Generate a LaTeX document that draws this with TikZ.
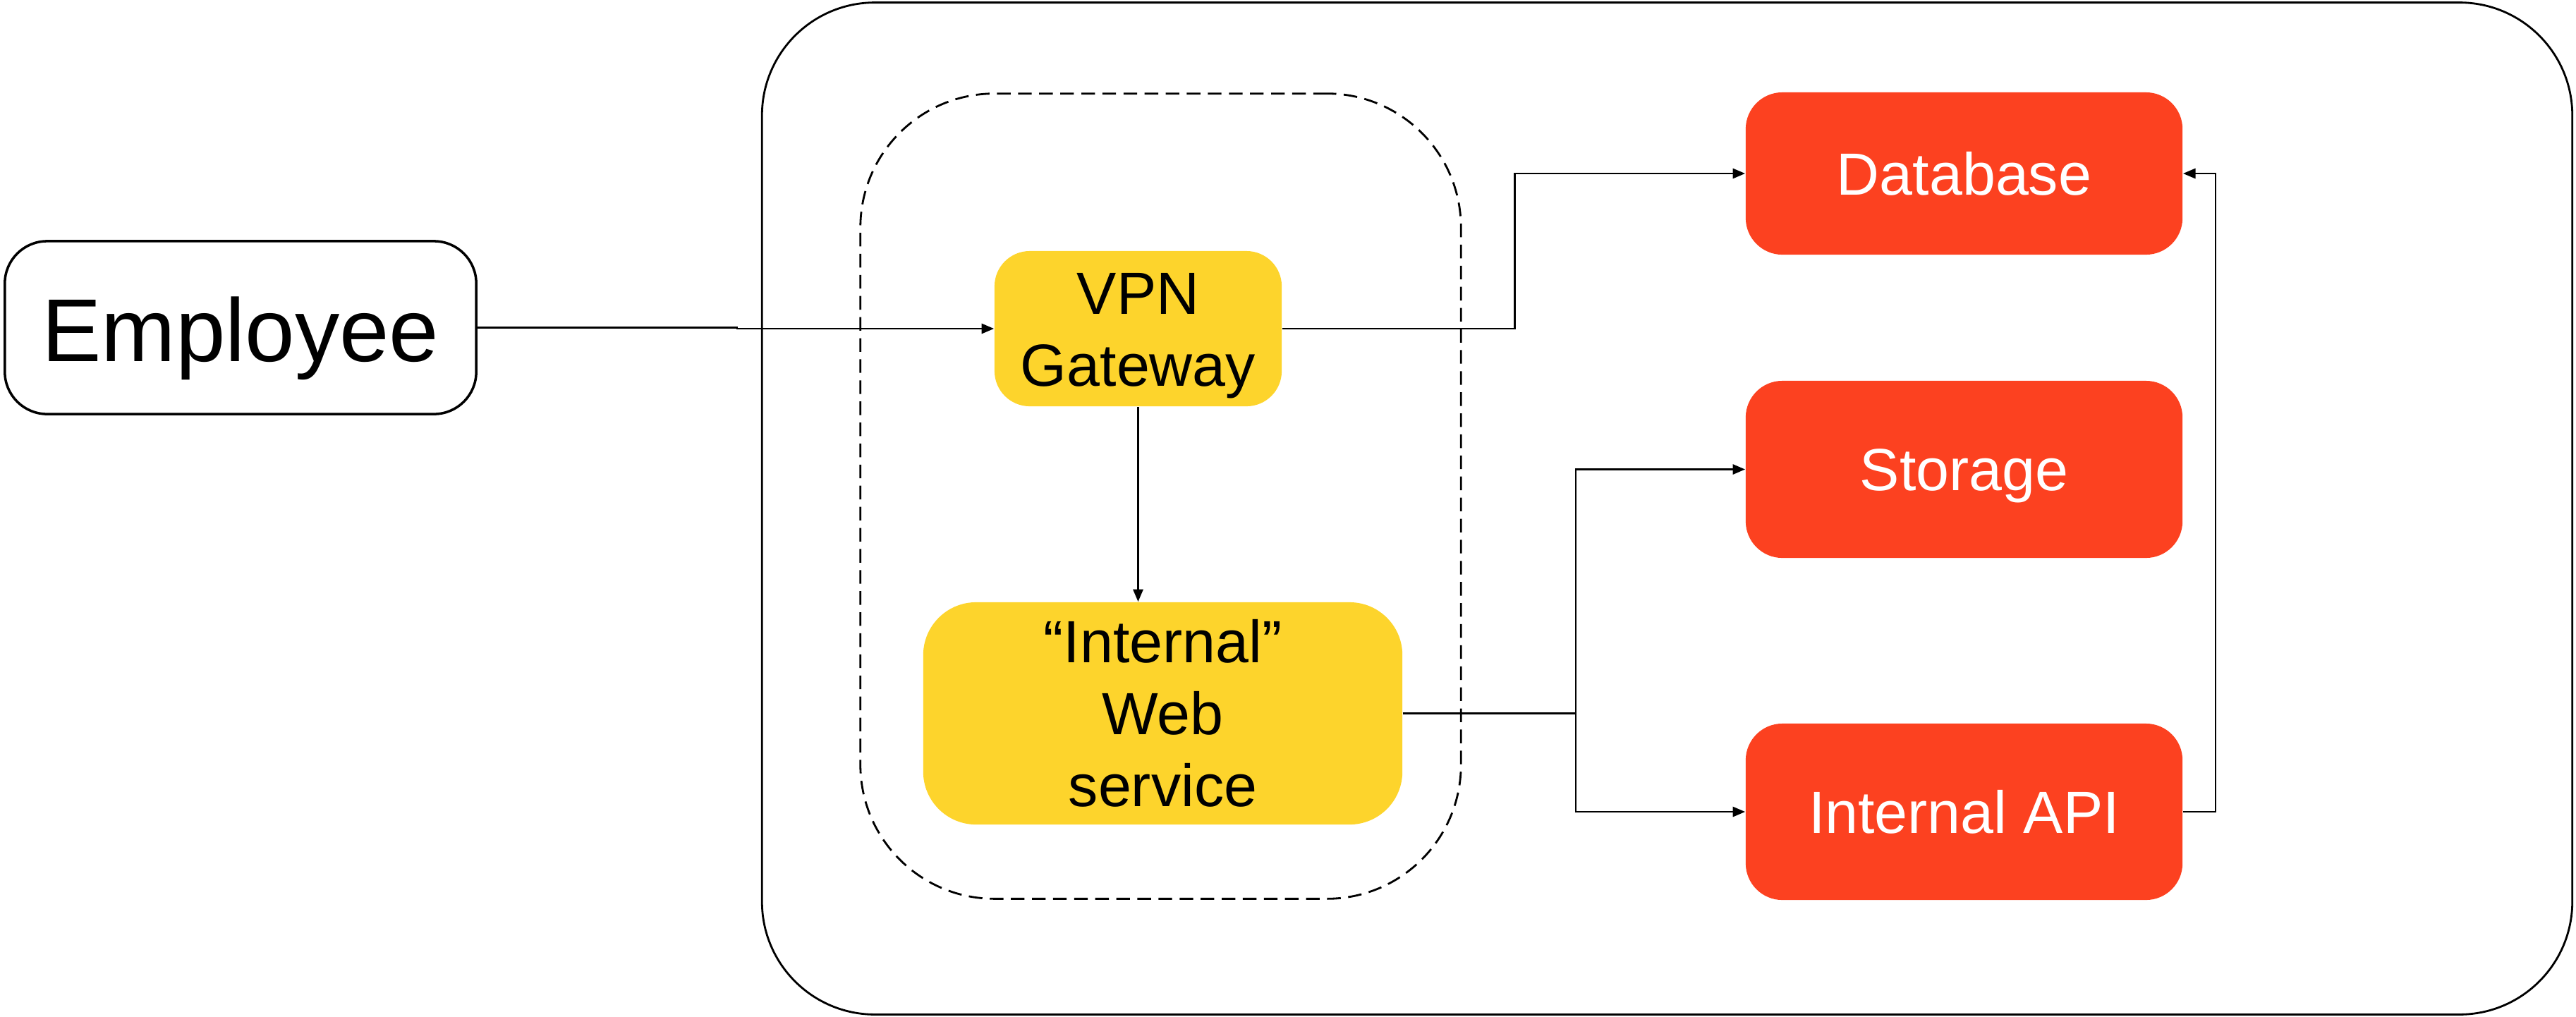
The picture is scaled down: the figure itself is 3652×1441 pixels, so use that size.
\documentclass[tikz,border=0pt]{standalone}
\usepackage{fontspec}
\setmainfont{Liberation Sans}
\usetikzlibrary{arrows.meta}
\definecolor{ybox}{RGB}{253,212,44}
\definecolor{rbox}{RGB}{252,65,32}
\tikzset{
  box/.style={rectangle, inner sep=0pt, align=center},
  ybx/.style={box, fill=ybox, font=\fontsize{24}{29}\selectfont, text depth=0pt},
  rbx/.style={box, fill=rbox, text=white, font=\fontsize{24}{29}\selectfont,
              minimum width=6.19cm, rounded corners=0.52cm, text height=17.2pt, text depth=0pt},
  arr/.style={line width=0.8pt, -{Triangle[length=5pt,width=4pt]}},
}
\begin{document}
\begin{tikzpicture}[x=0.01cm, y=-0.01cm]
\useasboundingbox (0,0) rectangle (3652,1441);
% containers
\node[box, draw, line width=0.8pt, minimum width=25.65cm, minimum height=14.34cm,
      rounded corners=1.6cm] (outer) at (2363.5,721) {};
\node[box, draw, dashed, dash pattern=on 5.5pt off 3pt, line width=0.8pt,
      minimum width=8.51cm, minimum height=11.41cm, rounded corners=1.9cm] (zone) at (1645.5,703.5) {};
% nodes
\node[box, draw, line width=1pt, minimum width=6.68cm, minimum height=2.45cm,
      rounded corners=0.6cm, font=\fontsize{36}{42}\selectfont,
      text height=27.2pt, text depth=0pt] (emp) at (341,464.5) {Employee};
\node[ybx, minimum width=4.07cm, minimum height=2.2cm, rounded corners=0.5cm,
      text height=46.2pt] (vpn) at (1613.5,466) {VPN\\Gateway};
\node[ybx, minimum width=6.79cm, minimum height=3.15cm, rounded corners=0.75cm,
      text height=75.2pt] (web) at (1648.5,1011.5) {“Internal”\\Web\\service};
\node[rbx, minimum height=2.3cm] (db) at (2784.5,246) {Database};
\node[rbx, minimum height=2.51cm] (sto) at (2784.5,665.5) {Storage};
\node[rbx, minimum height=2.5cm] (api) at (2784.5,1151) {Internal API};
% connectors
\draw[arr] (emp.east) -- ++(368,0) |- (vpn.west);
\draw[arr] (vpn.east) -- ++(330,0) |- (db.west);
\draw[arr] (vpn.south) -- (vpn.south |- web.north);
\draw[arr] (web.east) -- ++(245,0) |- (sto.west);
\draw[arr] (web.east) -- ++(245,0) |- (api.west);
\draw[arr] (api.east) -- ++(46,0) |- (db.east);
\end{tikzpicture}
\end{document}
